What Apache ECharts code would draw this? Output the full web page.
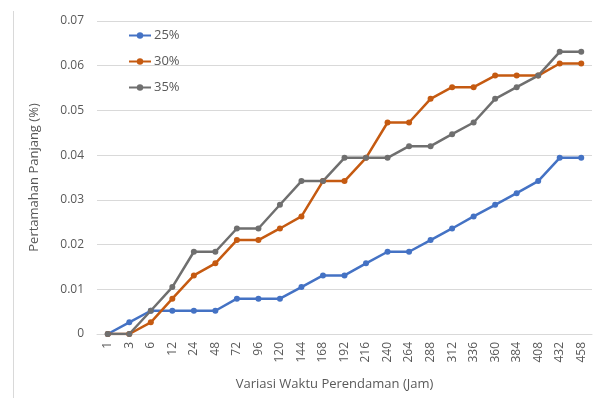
<!DOCTYPE html>
<html><head><meta charset="utf-8">
<script src="https://cdn.jsdelivr.net/npm/echarts@6/dist/echarts.min.js"></script>
<style>html,body{margin:0;padding:0;background:#fff}#c{width:599px;height:398px}</style>
</head><body><div id="c"></div>
<script>
var categories = ['1','3','6','12','24','48','72','96','120','144','168','192','216','240','264','288','312','336','360','384','408','432','458'];
var seriesNames = ['25%','30%','35%'];
var s25 = [0,0.0026,0.0052,0.0052,0.0052,0.0052,0.0079,0.0079,0.0079,0.0105,0.0131,0.0131,0.0158,0.0184,0.0184,0.0210,0.0236,0.0263,0.0289,0.0315,0.0342,0.0394,0.0394];
var s30 = [0,0,0.0026,0.0079,0.0131,0.0158,0.0210,0.0210,0.0236,0.0263,0.0342,0.0342,0.0394,0.0473,0.0473,0.0526,0.0552,0.0552,0.0578,0.0578,0.0578,0.0605,0.0605];
var s35 = [0,0,0.0052,0.0105,0.0184,0.0184,0.0236,0.0236,0.0289,0.0342,0.0342,0.0394,0.0394,0.0394,0.0420,0.0420,0.0447,0.0473,0.0526,0.0552,0.0578,0.0631,0.0631];
var colors = ['#4472C4','#C55A11','#6F6F6F'];
var font = 'Open Sans';
var chart = echarts.init(document.getElementById('c'));
function mk(name, data, color){
  return {name:name,type:'line',data:data,symbol:'circle',symbolSize:6,
    lineStyle:{width:2.5,color:color},itemStyle:{color:color},animation:false};
}
chart.setOption({
  animation:false,
  textStyle:{fontFamily:font},
  grid:{left:97,right:7,top:21,bottom:64},
  legend:{orient:'vertical',left:123,top:24,itemGap:13,itemWidth:22,itemHeight:8,
    textStyle:{fontFamily:font,fontSize:13,color:'#595959',padding:[0,0,0,-2]},
    data:seriesNames},
  xAxis:{type:'category',data:categories,boundaryGap:true,
    axisLine:{lineStyle:{color:'#D9D9D9',width:1}},axisTick:{show:false},
    axisLabel:{rotate:90,color:'#595959',fontSize:12,fontFamily:font,interval:0,margin:8},
    name:'Variasi Waktu Perendaman (Jam)',nameLocation:'middle',nameGap:44,
    nameTextStyle:{color:'#595959',fontSize:13,fontFamily:font,padding:[0,20,0,0]}},
  yAxis:{type:'value',min:0,max:0.07,interval:0.01,
    axisLine:{show:false},axisTick:{show:false},
    splitLine:{lineStyle:{color:'#D9D9D9',width:1}},
    axisLabel:{color:'#595959',fontSize:12,fontFamily:font,margin:13,
      formatter:function(v){return v===0?'0':v.toFixed(2);}},
    name:'Pertamahan Panjang (%)',nameLocation:'middle',nameGap:56,nameRotate:90,
    nameTextStyle:{color:'#595959',fontSize:13,fontFamily:font}},
  graphic:[{type:'line',shape:{x1:13.5,y1:11,x2:13.5,y2:398},style:{stroke:'#D9D9D9',lineWidth:1}}],
  series:[mk(seriesNames[0],s25,colors[0]),mk(seriesNames[1],s30,colors[1]),mk(seriesNames[2],s35,colors[2])]
});
</script></body></html>
